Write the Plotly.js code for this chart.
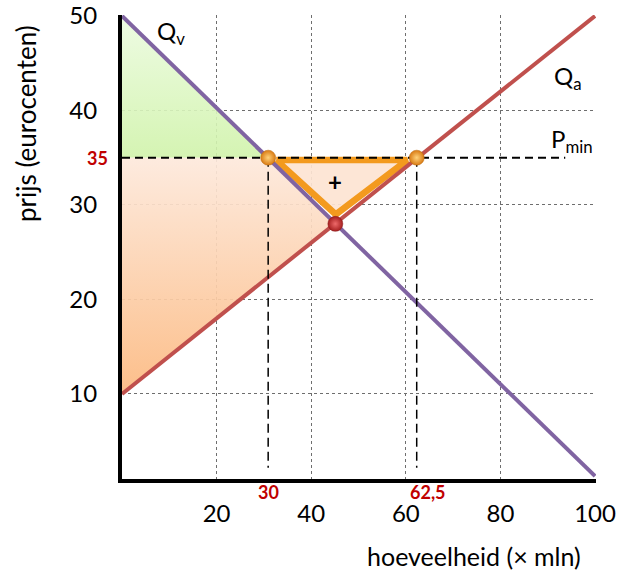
<!DOCTYPE html>
<html>
<head>
<meta charset="utf-8">
<script src="https://cdn.plot.ly/plotly-3.0.1.min.js"></script>
<style>html,body{margin:0;padding:0;background:#fff;}#chart{width:618px;height:574px;}</style>
</head>
<body>
<div id="chart"></div>
<script>
// ---- data ----
const demandX = [0, 100];          // Qv
const demandY = [50, 1.3];
const supplyX = [0, 100];          // Qa
const supplyY = [10, 50];
const pMin = 35;                   // minimum price
const qDemandAtPmin = 30.9;        // labelled "30"
const qSupplyAtPmin = 62.3;        // labelled "62,5"
const eqX = 45.1, eqY = 28.0;      // market equilibrium
const pMinLineEndX = 93.7;
const dropLineBottomY = 2.2;
const consumerX = [0, 0, qDemandAtPmin];
const consumerY = [50, pMin, pMin];
const producerX = [0, qDemandAtPmin, eqX, 0];
const producerY = [pMin, pMin, eqY, 10];
const gainX = [32.6, 60.3, 45.2, 32.6];
const gainY = [34.75, 34.75, 29.0, 34.75];
const xTicks = [20, 40, 60, 80, 100];
const yTicks = [10, 20, 30, 40, 50];
const redLabelX = ["30", "62,5"];
const redLabelY = "35";

const FONT = "Lato, 'Open Sans', sans-serif";
const RED = "#c00000";

const traces = [
  { x: consumerX, y: consumerY, mode: "lines", fill: "toself", line: {width: 0},
    fillgradient: {type: "vertical", start: pMin, stop: 50,
      colorscale: [[0, "rgba(208,243,170,0.9)"], [1, "rgba(236,251,224,0.9)"]]},
    hoverinfo: "skip" },
  { x: producerX, y: producerY, mode: "lines", fill: "toself", line: {width: 0},
    fillgradient: {type: "vertical", start: 10, stop: pMin,
      colorscale: [[0, "rgba(252,185,128,0.92)"], [1, "rgba(253,233,220,0.92)"]]},
    hoverinfo: "skip" },
  { x: gainX, y: gainY, mode: "lines", fill: "toself", fillcolor: "rgba(253,228,210,0.92)",
    line: {color: "#f39a1e", width: 6.5}, hoverinfo: "skip" },
  { x: demandX, y: demandY, mode: "lines", line: {color: "#8064a2", width: 4}, hoverinfo: "skip" },
  { x: supplyX, y: supplyY, mode: "lines", line: {color: "#c0504d", width: 4}, hoverinfo: "skip" },
  { x: [0, pMinLineEndX], y: [pMin, pMin], mode: "lines",
    line: {color: "#000", width: 2, dash: "8px,5px"}, hoverinfo: "skip" },
  { x: [qDemandAtPmin, qDemandAtPmin], y: [pMin, dropLineBottomY], mode: "lines",
    line: {color: "#000", width: 1.5, dash: "9px,5px"}, hoverinfo: "skip" },
  { x: [qSupplyAtPmin, qSupplyAtPmin], y: [pMin, dropLineBottomY], mode: "lines",
    line: {color: "#000", width: 1.5, dash: "9px,5px"}, hoverinfo: "skip" },
  { x: [qDemandAtPmin, qSupplyAtPmin], y: [pMin, pMin], mode: "markers",
    marker: {size: 15, color: "#d97a12", gradient: {type: "radial", color: "#ffd27a"},
      line: {color: "#b86a10", width: 0.5}}, hoverinfo: "skip" },
  { x: [eqX], y: [eqY], mode: "markers",
    marker: {size: 15, color: "#a51f1f", gradient: {type: "radial", color: "#ee6a6a"},
      line: {color: "#8a1a1a", width: 0.5}}, hoverinfo: "skip" }
];

const annotations = [
  {x: 7.0, y: 48.3, xref: "x", yref: "y", text: "Q<sub>v</sub>", showarrow: false,
   xanchor: "left", yanchor: "middle", font: {family: FONT, size: 24, color: "#000"}},
  {x: 90.8, y: 43.5, xref: "x", yref: "y", text: "Q<sub>a</sub>", showarrow: false,
   xanchor: "left", yanchor: "middle", font: {family: FONT, size: 24, color: "#000"}},
  {x: 90.3, y: 36.8, xref: "x", yref: "y", text: "P<sub>min</sub>", showarrow: false,
   xanchor: "left", yanchor: "middle", font: {family: FONT, size: 24, color: "#000"}},
  {x: eqX, y: 32.5, xref: "x", yref: "y", text: "<b>+</b>", showarrow: false,
   xanchor: "center", yanchor: "middle", font: {family: FONT, size: 24, color: "#000"}},
  {x: 0, y: pMin, xref: "x", yref: "y", xanchor: "right", yanchor: "middle", xshift: -12,
   text: "<b>" + redLabelY + "</b>", showarrow: false, font: {family: FONT, size: 18, color: RED}},
  {x: qDemandAtPmin, y: 0, xref: "x", yref: "paper", xanchor: "center", yanchor: "middle", yshift: -13,
   text: "<b>" + redLabelX[0] + "</b>", showarrow: false, font: {family: FONT, size: 18, color: RED}},
  {x: qSupplyAtPmin, y: 0, xref: "x", yref: "paper", xanchor: "center", yanchor: "middle", xshift: 11, yshift: -13,
   text: "<b>" + redLabelX[1] + "</b>", showarrow: false, font: {family: FONT, size: 18, color: RED}},
  {x: 0, y: 0.765, xref: "paper", yref: "paper", xanchor: "center", yanchor: "middle", xshift: -96,
   text: "prijs (eurocenten)", textangle: -90, showarrow: false, font: {family: FONT, size: 26, color: "#000"}},
  {x: 0.754, y: 0, xref: "paper", yref: "paper", xanchor: "center", yanchor: "middle", yshift: -77, xshift: -5,
   text: "hoeveelheid (× mln)", showarrow: false, font: {family: FONT, size: 25, color: "#000"}}
];

const layout = {
  width: 618, height: 574,
  margin: {l: 122, r: 22, t: 15, b: 95},
  paper_bgcolor: "#fff", plot_bgcolor: "#fff",
  showlegend: false,
  font: {family: FONT, size: 24, color: "#000"},
  xaxis: {range: [0, 100.2], tickvals: xTicks, ticktext: xTicks.map(String),
    showgrid: true, gridcolor: "#6e6e6e", gridwidth: 1, griddash: "dot",
    zeroline: false, showline: true, linecolor: "#000", linewidth: 4,
    ticks: "", ticklabelstandoff: 10, tickfont: {family: FONT, size: 24, color: "#000"}},
  yaxis: {range: [1.0, 50.1], tickvals: yTicks, ticktext: yTicks.map(String),
    showgrid: true, gridcolor: "#6e6e6e", gridwidth: 1, griddash: "dot",
    zeroline: false, showline: true, linecolor: "#000", linewidth: 4,
    ticks: "", ticklabelstandoff: 16, tickfont: {family: FONT, size: 24, color: "#000"}},
  annotations: annotations
};

Plotly.newPlot("chart", traces, layout, {displayModeBar: false, staticPlot: true});
</script>
</body>
</html>
